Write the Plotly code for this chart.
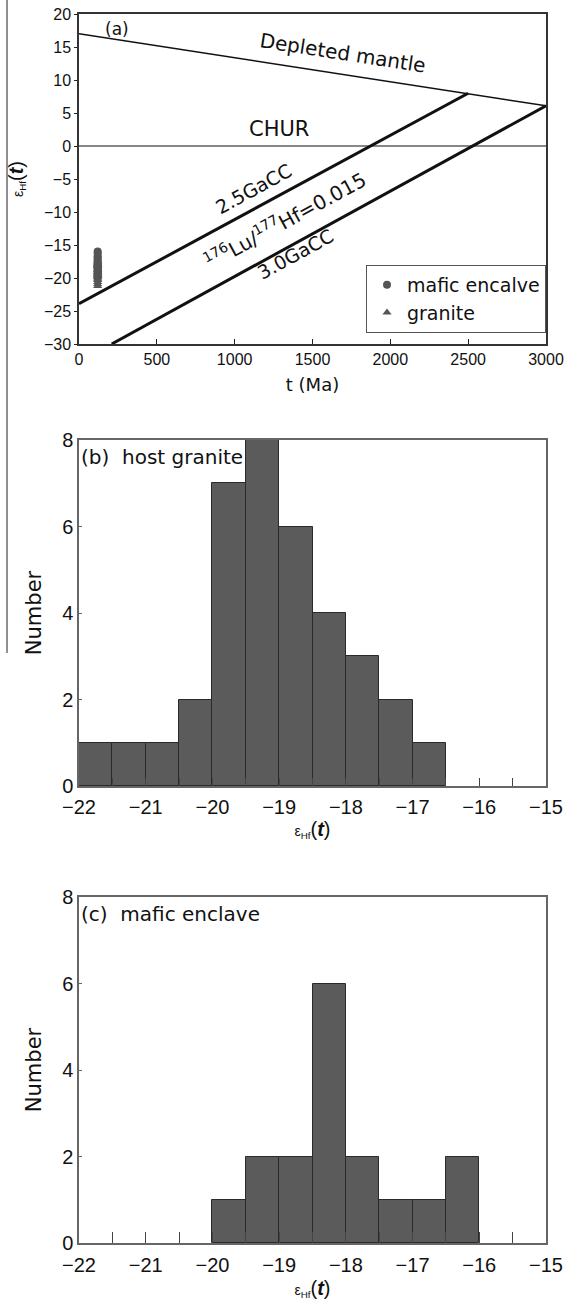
import plotly.graph_objects as go

# ---------------- Panel (a): epsilon Hf(t) vs t ----------------
age_mafic = [120] * 17
eps_mafic = [-16.0, -16.3, -16.7, -17.1, -17.5, -17.8, -18.0, -18.1, -18.2,
             -18.3, -18.4, -18.6, -18.9, -19.1, -19.3, -19.6, -19.9]
age_granite = [120] * 22
eps_granite = [-16.6, -17.0, -17.3, -17.6, -17.9, -18.1, -18.3, -18.6, -18.8,
               -19.0, -19.1, -19.3, -19.4, -19.6, -19.7, -19.8, -19.9, -20.1,
               -20.3, -20.6, -20.9, -21.2]

dm_t = [0, 3000]
dm_eps = [17.0, 6.1]
chur_t = [0, 3000]
chur_eps = [0, 0]
cc25_t = [0, 2500]
cc25_eps = [-23.9, 8.0]
cc30_t = [210, 3000]
cc30_eps = [-30.0, 6.1]

# ---------------- Panel (b): host granite histogram ----------------
bins_b = [-21.75, -21.25, -20.75, -20.25, -19.75, -19.25, -18.75, -18.25,
          -17.75, -17.25, -16.75]
counts_b = [1, 1, 1, 2, 7, 8, 6, 4, 3, 2, 1]

# ---------------- Panel (c): mafic enclave histogram ----------------
bins_c = [-19.75, -19.25, -18.75, -18.25, -17.75, -17.25, -16.75, -16.25]
counts_c = [1, 2, 2, 6, 2, 1, 1, 2]

W, H = 566, 1305
FONT = "Liberation Sans, Arial, sans-serif"
WIDE = "DejaVu Sans, Verdana, sans-serif"


def px_x(p):
    return p / W


def px_y(p):
    return 1 - p / H


fig = go.Figure()

line_style = dict(color="#111111")
fig.add_trace(go.Scatter(x=dm_t, y=dm_eps, mode="lines", line=dict(width=1.5, **line_style),
                         showlegend=False, hoverinfo="skip", xaxis="x", yaxis="y"))
fig.add_trace(go.Scatter(x=chur_t, y=chur_eps, mode="lines", line=dict(width=1.2, **line_style),
                         showlegend=False, hoverinfo="skip", xaxis="x", yaxis="y"))
fig.add_trace(go.Scatter(x=cc25_t, y=cc25_eps, mode="lines", line=dict(width=3, **line_style),
                         showlegend=False, hoverinfo="skip", xaxis="x", yaxis="y"))
fig.add_trace(go.Scatter(x=cc30_t, y=cc30_eps, mode="lines", line=dict(width=3, **line_style),
                         showlegend=False, hoverinfo="skip", xaxis="x", yaxis="y"))

fig.add_trace(go.Scatter(x=age_mafic, y=eps_mafic, mode="markers", name="mafic encalve",
                         marker=dict(symbol="circle", size=8, color="#555555"),
                         xaxis="x", yaxis="y"))
fig.add_trace(go.Scatter(x=age_granite, y=eps_granite, mode="markers", name="granite",
                         marker=dict(symbol="triangle-up", size=8, color="#555555"),
                         xaxis="x", yaxis="y"))

bar_marker = dict(color="#5b5b5b", line=dict(color="#2a2a2a", width=1))
fig.add_trace(go.Bar(x=bins_b, y=counts_b, width=0.5, marker=bar_marker,
                     showlegend=False, xaxis="x2", yaxis="y2"))
fig.add_trace(go.Bar(x=bins_c, y=counts_c, width=0.5, marker=bar_marker,
                     showlegend=False, xaxis="x3", yaxis="y3"))

xdom = [px_x(79), px_x(546)]
eps_title = "<span style='font-size:14px'>ε<sub>Hf</sub></span>(<b><i>t</i></b>)"

common = dict(showgrid=False, zeroline=False, showline=True, mirror=True, automargin=False)

fig.update_layout(
    width=W, height=H,
    margin=dict(l=0, r=0, t=0, b=0, autoexpand=False),
    paper_bgcolor="white", plot_bgcolor="white",
    font=dict(family=FONT, color="#111111"),
    bargap=0,
    xaxis=dict(domain=xdom, anchor="y", range=[0, 3000], dtick=500,
               ticks="inside", ticklen=5, tickcolor="#222", linecolor="#333", linewidth=1.5,
               tickfont=dict(size=16),
               title=dict(text="t (Ma)", font=dict(size=18, family=WIDE), standoff=11), **common),
    yaxis=dict(domain=[px_y(344), px_y(14)], anchor="x", range=[-30, 20], dtick=5,
               ticks="outside", ticklen=3, tickcolor="#222", linecolor="#333", linewidth=1.5,
               tickfont=dict(size=16),
               title=dict(text=eps_title, font=dict(size=20), standoff=15), **common),
    xaxis2=dict(domain=xdom, anchor="y2", range=[-22, -15], dtick=1,
                ticks="inside", ticklen=8, tickcolor="#444", linecolor="#666", linewidth=1.5,
                minor=dict(dtick=0.5, ticks="inside", ticklen=8, tickcolor="#444"),
                tickfont=dict(size=20), ticklabelstandoff=2,
                title=dict(text=eps_title, font=dict(size=20), standoff=1), **common),
    yaxis2=dict(domain=[px_y(786), px_y(440)], anchor="x2", range=[0, 8], dtick=2,
                ticks="inside", ticklen=3, tickcolor="#666", linecolor="#666", linewidth=1.5,
                tickfont=dict(size=20),
                title=dict(text="Number", font=dict(size=21, family=WIDE), standoff=15), **common),
    xaxis3=dict(domain=xdom, anchor="y3", range=[-22, -15], dtick=1,
                ticks="inside", ticklen=11, tickcolor="#444", linecolor="#666", linewidth=1.5,
                minor=dict(dtick=0.5, ticks="inside", ticklen=11, tickcolor="#444"),
                tickfont=dict(size=20), ticklabelstandoff=3,
                title=dict(text=eps_title, font=dict(size=20), standoff=6), **common),
    yaxis3=dict(domain=[px_y(1243), px_y(897)], anchor="x3", range=[0, 8], dtick=2,
                ticks="inside", ticklen=3, tickcolor="#666", linecolor="#666", linewidth=1.5,
                tickfont=dict(size=20),
                title=dict(text="Number", font=dict(size=21, family=WIDE), standoff=15), **common),
    legend=dict(x=px_x(546), xanchor="right", y=px_y(265), yanchor="top",
                bgcolor="white", bordercolor="#555", borderwidth=1,
                font=dict(size=19, family=WIDE), tracegroupgap=0),
    shapes=[dict(type="line", xref="paper", yref="paper",
                 x0=px_x(7), x1=px_x(7), y0=1, y1=px_y(653),
                 line=dict(color="#222", width=1))],
)

NB = "\u00a0"
ann = [
    dict(text="(a)", x=244, y=17.7, xref="x", yref="y", font=dict(size=17, family=WIDE), textangle=0),
    dict(text="Depleted mantle", x=1697, y=14.1, xref="x", yref="y",
         font=dict(size=20, family=WIDE), textangle=8.8),
    dict(text="CHUR", x=1286, y=2.6, xref="x", yref="y", font=dict(size=21, family=WIDE), textangle=0),
    dict(text="2.5GaCC", x=1118, y=-6.5, xref="x", yref="y",
         font=dict(size=19, family=WIDE), textangle=-28.6),
    dict(text="<sup>176</sup>Lu/<sup>177</sup>Hf=0.015", x=1321, y=-11.2, xref="x", yref="y",
         font=dict(size=20, family=WIDE), textangle=-28.6),
    dict(text="3.0GaCC", x=1390, y=-16.4, xref="x", yref="y",
         font=dict(size=19, family=WIDE), textangle=-28.6),
    dict(text="(b)" + NB * 2 + "host granite", x=-21.98, y=7.9, xref="x2", yref="y2", xanchor="left",
         yanchor="top", font=dict(size=20, family=WIDE), borderpad=0),
    dict(text="(c)" + NB * 2 + "mafic enclave", x=-21.98, y=7.9, xref="x3", yref="y3", xanchor="left",
         yanchor="top", font=dict(size=20, family=WIDE), borderpad=0),
]
for a in ann:
    a.setdefault("showarrow", False)
fig.update_layout(annotations=ann)

fig.write_html("out.html", config={"displayModeBar": False},
               post_script="document.body.style.margin='0px';")
